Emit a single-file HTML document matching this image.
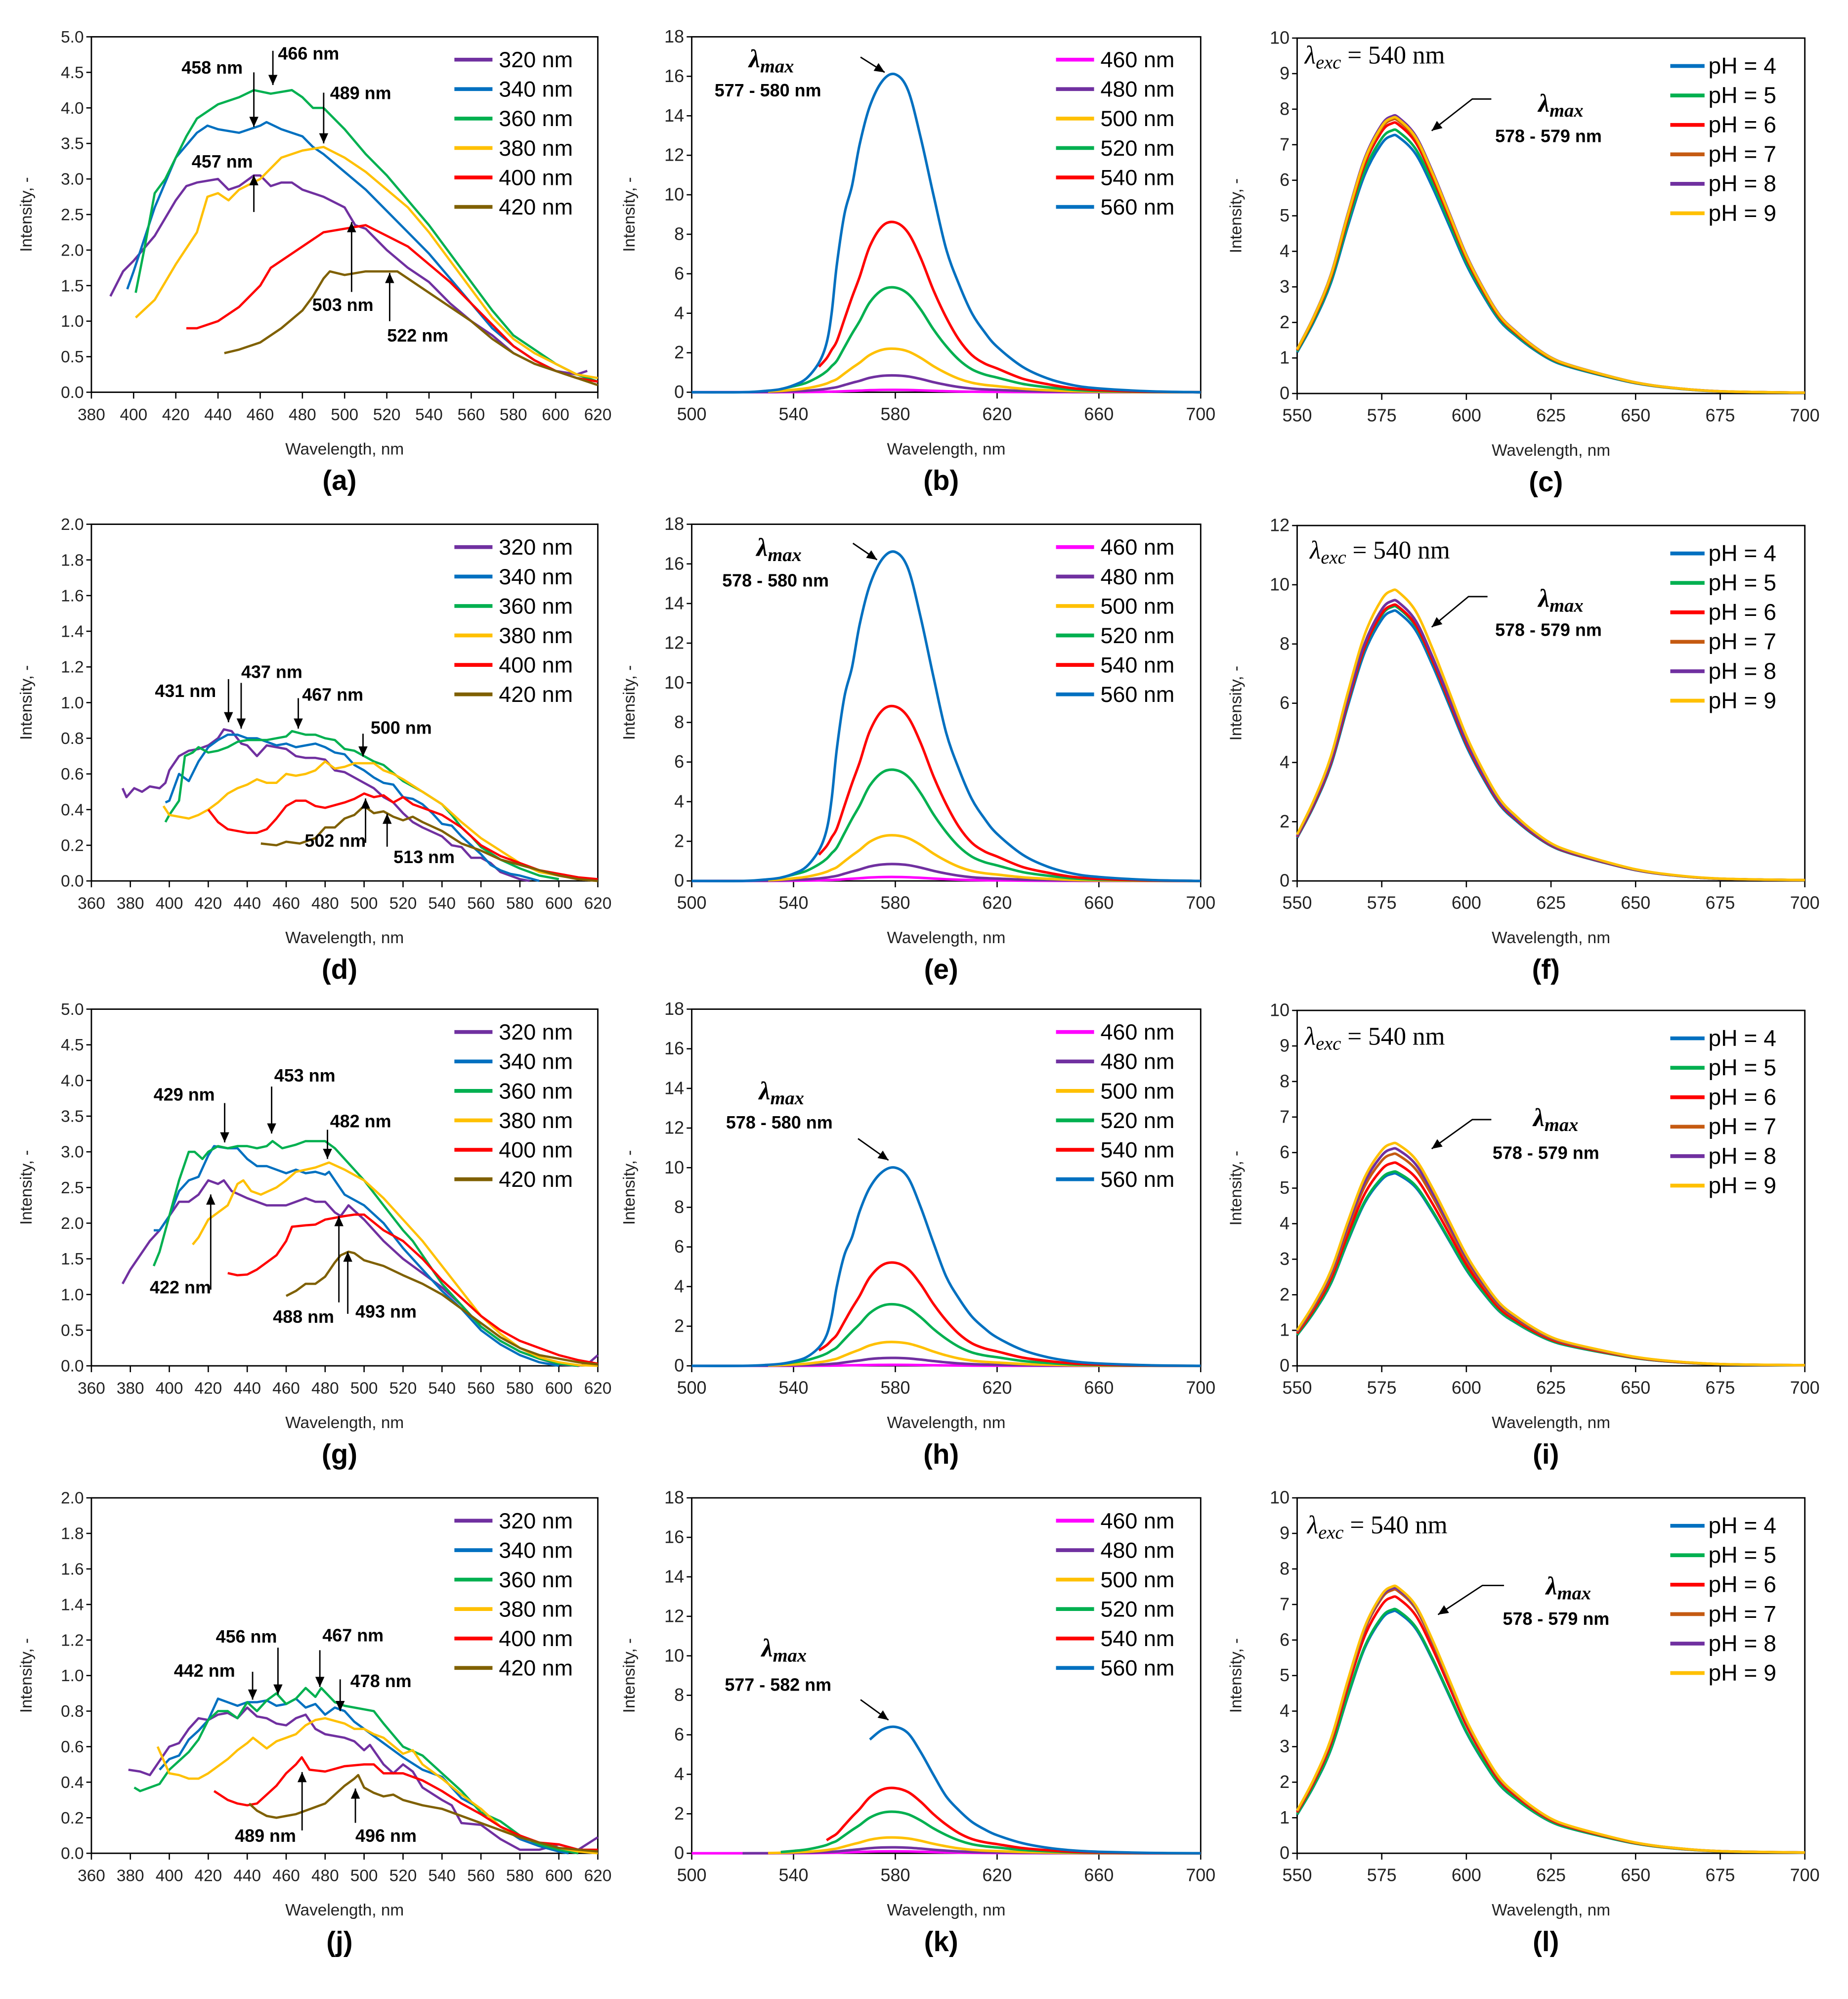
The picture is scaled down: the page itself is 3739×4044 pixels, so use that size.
<!DOCTYPE html>
<html><head><meta charset="utf-8"><title>Fluorescence spectra</title>
<style>html,body{margin:0;padding:0;background:#fff}svg{display:block}</style></head>
<body>
<svg id="fig" xmlns="http://www.w3.org/2000/svg" width="3739" height="4044" viewBox="0 0 1456 1574.8" font-family="Liberation Sans, sans-serif"></svg>
<script>
// ===== Column 1 data: [wavelength, intensity] pairs =====
const a320=[[389,1.35],[395,1.7],[400,1.85],[410,2.2],[420,2.7],[425,2.9],[430,2.95],[440,3.0],[445,2.85],[450,2.9],[457,3.05],[460,3.05],[465,2.9],[470,2.95],[475,2.95],[480,2.85],[490,2.75],[500,2.6],[505,2.35],[510,2.3],[520,2.0],[530,1.75],[540,1.55],[550,1.25],[560,1.0],[570,0.8],[580,0.55],[590,0.4],[600,0.3],[610,0.25],[615,0.3]];
const a340=[[397,1.45],[400,1.7],[410,2.6],[420,3.3],[430,3.65],[435,3.75],[440,3.7],[450,3.65],[460,3.75],[463,3.8],[470,3.7],[480,3.6],[485,3.45],[490,3.35],[500,3.1],[510,2.85],[520,2.55],[530,2.25],[540,1.95],[550,1.6],[560,1.25],[570,0.9],[580,0.65],[590,0.45],[600,0.3],[610,0.2],[620,0.15]];
const a360=[[401,1.4],[405,2.0],[410,2.8],[415,3.0],[420,3.3],[425,3.6],[430,3.85],[435,3.95],[440,4.05],[450,4.15],[457,4.25],[465,4.2],[475,4.25],[480,4.15],[485,4.0],[490,4.0],[500,3.7],[510,3.35],[520,3.05],[530,2.7],[540,2.35],[550,1.95],[560,1.55],[570,1.15],[580,0.8],[590,0.6],[600,0.4],[610,0.25],[620,0.15]];
const a380=[[401,1.05],[410,1.3],[420,1.8],[430,2.25],[435,2.75],[440,2.8],[445,2.7],[450,2.85],[460,3.0],[470,3.3],[480,3.4],[490,3.45],[500,3.3],[510,3.1],[520,2.85],[530,2.6],[540,2.25],[550,1.85],[560,1.45],[570,1.05],[580,0.75],[590,0.55],[600,0.4],[610,0.25],[620,0.2]];
const a400=[[425,0.9],[430,0.9],[440,1.0],[450,1.2],[460,1.5],[465,1.75],[470,1.85],[480,2.05],[490,2.25],[500,2.3],[510,2.35],[520,2.2],[530,2.05],[540,1.8],[550,1.55],[560,1.25],[570,0.95],[580,0.65],[590,0.45],[600,0.3],[610,0.2],[620,0.15]];
const a420=[[443,0.55],[450,0.6],[460,0.7],[470,0.9],[480,1.15],[485,1.35],[490,1.6],[493,1.7],[500,1.65],[510,1.7],[520,1.7],[525,1.7],[530,1.6],[540,1.4],[550,1.2],[560,1.0],[570,0.75],[580,0.55],[590,0.4],[600,0.3],[610,0.2],[620,0.1]];

const d320=[[376,0.52],[378,0.47],[382,0.52],[386,0.5],[390,0.53],[395,0.52],[398,0.55],[400,0.62],[405,0.7],[410,0.73],[415,0.74],[420,0.76],[425,0.8],[428,0.85],[432,0.84],[437,0.77],[440,0.76],[445,0.7],[450,0.76],[455,0.75],[460,0.74],[465,0.7],[470,0.69],[475,0.69],[480,0.68],[485,0.62],[490,0.61],[495,0.58],[500,0.55],[505,0.52],[510,0.47],[515,0.44],[520,0.38],[525,0.33],[530,0.3],[540,0.25],[545,0.2],[550,0.19],[555,0.13],[560,0.13],[565,0.1],[570,0.05],[575,0.03],[580,0.01],[585,0.0]];
const d340=[[398,0.44],[400,0.45],[405,0.6],[410,0.56],[415,0.67],[420,0.75],[425,0.79],[430,0.82],[435,0.82],[440,0.8],[445,0.8],[450,0.78],[455,0.76],[460,0.77],[465,0.75],[470,0.76],[475,0.77],[480,0.75],[485,0.72],[490,0.71],[495,0.65],[500,0.62],[505,0.58],[510,0.55],[515,0.54],[520,0.47],[525,0.46],[530,0.43],[535,0.38],[540,0.32],[545,0.31],[550,0.25],[555,0.2],[560,0.15],[565,0.09],[570,0.06],[575,0.04],[580,0.03],[590,0.0]];
const d360=[[398,0.33],[400,0.37],[405,0.45],[408,0.7],[412,0.72],[415,0.75],[420,0.72],[425,0.73],[430,0.75],[435,0.78],[440,0.79],[450,0.79],[455,0.8],[460,0.81],[463,0.84],[470,0.82],[475,0.82],[480,0.8],[485,0.79],[490,0.74],[495,0.73],[500,0.7],[505,0.67],[510,0.65],[520,0.56],[530,0.5],[540,0.43],[545,0.37],[550,0.3],[555,0.25],[560,0.19],[570,0.12],[580,0.07],[590,0.03],[600,0.01]];
const d380=[[397,0.42],[400,0.37],[405,0.36],[410,0.35],[415,0.37],[420,0.4],[425,0.44],[430,0.49],[435,0.52],[440,0.54],[445,0.57],[450,0.55],[455,0.55],[460,0.6],[465,0.59],[470,0.6],[475,0.62],[480,0.67],[485,0.63],[490,0.64],[495,0.66],[500,0.66],[505,0.66],[510,0.62],[515,0.6],[520,0.57],[530,0.5],[540,0.43],[550,0.33],[560,0.24],[570,0.17],[580,0.1],[590,0.05],[600,0.03],[610,0.01],[620,0.0]];
const d400=[[420,0.4],[425,0.33],[430,0.29],[435,0.28],[440,0.27],[445,0.27],[450,0.29],[455,0.35],[460,0.42],[465,0.45],[470,0.45],[475,0.42],[480,0.41],[490,0.44],[495,0.46],[500,0.49],[505,0.47],[510,0.48],[515,0.44],[520,0.47],[525,0.43],[530,0.41],[540,0.37],[550,0.3],[560,0.2],[570,0.14],[580,0.1],[590,0.06],[600,0.04],[610,0.02],[620,0.01]];
const d420=[[447,0.21],[455,0.2],[460,0.22],[467,0.21],[475,0.24],[480,0.3],[485,0.3],[490,0.35],[495,0.37],[500,0.42],[505,0.38],[510,0.39],[515,0.36],[520,0.34],[525,0.36],[530,0.33],[540,0.28],[550,0.21],[560,0.17],[570,0.12],[580,0.09],[590,0.06],[600,0.03],[610,0.01],[620,0.0]];

const g320=[[376,1.15],[380,1.35],[385,1.55],[390,1.75],[395,1.9],[400,2.1],[405,2.3],[410,2.3],[415,2.4],[420,2.6],[425,2.55],[428,2.6],[432,2.45],[440,2.35],[450,2.25],[460,2.25],[465,2.3],[470,2.35],[475,2.3],[480,2.3],[485,2.15],[488,2.1],[492,2.25],[500,2.05],[510,1.75],[520,1.5],[530,1.3],[540,1.1],[550,0.85],[560,0.55],[570,0.35],[580,0.2],[590,0.1],[600,0.02],[610,0.0],[615,0.03],[620,0.15]];
const g340=[[392,1.9],[395,1.9],[400,2.1],[405,2.45],[410,2.6],[415,2.65],[420,2.95],[423,3.08],[430,3.05],[435,3.05],[440,2.9],[445,2.8],[450,2.8],[455,2.75],[460,2.7],[465,2.75],[470,2.7],[475,2.72],[480,2.68],[482,2.72],[490,2.4],[500,2.25],[510,2.0],[520,1.65],[530,1.35],[540,1.05],[550,0.8],[560,0.5],[570,0.3],[580,0.15],[590,0.05],[600,0.0]];
const g360=[[392,1.4],[395,1.6],[400,2.1],[405,2.6],[410,3.0],[413,3.0],[417,2.9],[420,3.0],[425,3.08],[430,3.05],[435,3.08],[440,3.08],[445,3.05],[450,3.08],[453,3.15],[458,3.05],[465,3.1],[470,3.15],[480,3.15],[485,3.05],[490,2.9],[500,2.6],[510,2.25],[520,1.9],[525,1.75],[530,1.55],[540,1.15],[550,0.85],[560,0.55],[570,0.35],[580,0.2],[590,0.1],[600,0.03],[610,0.0]];
const g380=[[412,1.7],[415,1.8],[420,2.05],[425,2.15],[430,2.25],[435,2.55],[438,2.6],[442,2.45],[447,2.4],[455,2.5],[460,2.6],[465,2.72],[470,2.75],[475,2.78],[482,2.85],[490,2.75],[500,2.6],[510,2.35],[520,2.05],[530,1.75],[540,1.4],[550,1.05],[560,0.7],[570,0.45],[580,0.25],[590,0.12],[600,0.05],[610,0.01],[620,0.0]];
const g400=[[430,1.3],[435,1.27],[440,1.28],[445,1.35],[450,1.45],[455,1.55],[460,1.75],[463,1.95],[470,1.97],[475,1.98],[480,2.05],[490,2.1],[495,2.12],[500,2.12],[510,1.9],[520,1.75],[530,1.5],[540,1.2],[550,0.95],[560,0.7],[570,0.5],[580,0.35],[590,0.25],[600,0.15],[610,0.08],[620,0.03]];
const g420=[[460,0.98],[465,1.05],[470,1.15],[475,1.15],[480,1.25],[485,1.45],[488,1.55],[492,1.6],[495,1.58],[500,1.48],[510,1.4],[520,1.27],[530,1.15],[540,1.0],[550,0.8],[560,0.6],[570,0.4],[580,0.25],[590,0.15],[600,0.1],[610,0.05],[620,0.02]];

const j320=[[379,0.47],[385,0.46],[390,0.44],[395,0.52],[400,0.6],[405,0.62],[410,0.7],[415,0.76],[420,0.75],[425,0.78],[430,0.79],[435,0.76],[440,0.82],[445,0.77],[450,0.76],[455,0.73],[460,0.72],[465,0.76],[470,0.78],[475,0.7],[480,0.67],[485,0.66],[490,0.65],[495,0.63],[500,0.58],[503,0.61],[510,0.5],[515,0.45],[520,0.5],[525,0.46],[530,0.37],[540,0.3],[545,0.27],[550,0.17],[560,0.16],[570,0.08],[580,0.02],[590,0.02],[600,0.05],[610,0.02],[620,0.09]];
const j340=[[395,0.47],[400,0.53],[405,0.55],[410,0.64],[415,0.69],[420,0.75],[425,0.87],[430,0.85],[435,0.83],[440,0.85],[445,0.85],[450,0.86],[455,0.83],[460,0.84],[465,0.87],[470,0.82],[475,0.84],[480,0.78],[485,0.82],[490,0.8],[495,0.74],[500,0.7],[510,0.62],[520,0.54],[530,0.47],[540,0.43],[550,0.31],[560,0.25],[570,0.15],[580,0.08],[590,0.04],[600,0.01],[605,0.0]];
const j360=[[382,0.37],[385,0.35],[390,0.37],[395,0.39],[400,0.47],[405,0.52],[410,0.57],[415,0.64],[420,0.75],[425,0.8],[430,0.8],[435,0.76],[440,0.85],[445,0.8],[450,0.86],[455,0.9],[460,0.84],[465,0.87],[470,0.93],[475,0.88],[478,0.93],[485,0.85],[490,0.83],[500,0.81],[505,0.8],[510,0.73],[520,0.6],[530,0.55],[540,0.45],[550,0.35],[560,0.23],[570,0.18],[580,0.1],[590,0.05],[600,0.02],[610,0.0]];
const j380=[[394,0.6],[400,0.45],[405,0.44],[410,0.42],[415,0.42],[420,0.45],[425,0.49],[430,0.53],[435,0.58],[440,0.62],[443,0.65],[450,0.59],[455,0.63],[460,0.65],[465,0.67],[470,0.72],[475,0.75],[480,0.76],[490,0.73],[495,0.7],[500,0.7],[505,0.67],[510,0.65],[520,0.56],[525,0.58],[530,0.5],[540,0.42],[550,0.33],[560,0.25],[570,0.15],[580,0.09],[590,0.06],[600,0.03],[610,0.01],[620,0.0]];
const j400=[[423,0.35],[430,0.3],[435,0.28],[440,0.27],[445,0.28],[450,0.33],[455,0.38],[460,0.45],[465,0.5],[468,0.54],[472,0.47],[480,0.46],[490,0.49],[500,0.5],[505,0.5],[510,0.45],[520,0.45],[530,0.41],[540,0.35],[550,0.28],[560,0.22],[570,0.15],[580,0.1],[590,0.06],[600,0.05],[610,0.02],[620,0.02]];
const j420=[[441,0.28],[445,0.24],[450,0.21],[455,0.2],[460,0.21],[465,0.22],[470,0.24],[475,0.26],[480,0.28],[485,0.33],[490,0.38],[495,0.42],[497,0.44],[500,0.37],[505,0.34],[510,0.32],[515,0.33],[520,0.3],[530,0.27],[540,0.25],[550,0.21],[560,0.17],[570,0.13],[580,0.09],[590,0.06],[600,0.03],[610,0.02],[620,0.01]];

// ===== Column 2 data (emission spectra by excitation wavelength) =====
const wl2=[500,520,530,535,540,545,550,553,555,557,560,563,566,570,575,580,585,590,595,600,605,610,615,620,630,640,650,660,680,700];
const shape560=[0,0,0.005,0.01,0.022,0.043,0.093,0.155,0.25,0.4,0.56,0.65,0.78,0.9,0.98,1,0.95,0.8,0.62,0.45,0.34,0.25,0.19,0.143,0.08,0.043,0.022,0.012,0.003,0];
const shapeOther=[0,0.003,0.015,0.03,0.057,0.09,0.15,0.2,0.25,0.3,0.43,0.56,0.68,0.86,0.98,1,0.94,0.79,0.6,0.44,0.31,0.22,0.17,0.14,0.08,0.047,0.023,0.012,0.003,0];
const excLabels=['460 nm','480 nm','500 nm','520 nm','540 nm','560 nm'];
const peaksB=[0.12,0.85,2.2,5.3,8.6,16.1];
const peaksE=[0.2,0.85,2.3,5.6,8.8,16.6];
const peaksH=[0.05,0.4,1.2,3.1,5.2,10.0];
const peaksK=[0.1,0.3,0.8,2.1,3.3,6.4];
const startsB=[500,500,521,532,549,500];
const startsE=[500,500,521,532,549,500];
const startsH=[500,500,521,532,549,500];
const startsK=[500,520,525,535,551,569];

// ===== Column 3 data (pH series) =====
const wl3=[550,555,560,565,570,575,578,580,585,590,595,600,605,610,615,620,625,630,640,650,660,675,700];
const shape3=[0.16,0.28,0.43,0.65,0.85,0.97,1,0.995,0.93,0.8,0.65,0.5,0.38,0.28,0.22,0.17,0.13,0.105,0.07,0.04,0.022,0.008,0.003];
const phLabels=['pH = 4','pH = 5','pH = 6','pH = 7','pH = 8','pH = 9'];
const peaksC=[7.25,7.4,7.6,7.7,7.8,7.75];
const peaksF=[9.1,9.25,9.3,9.45,9.45,9.8];
const peaksI=[5.4,5.45,5.7,5.95,6.1,6.25];
const peaksL=[6.8,6.85,7.2,7.4,7.45,7.5];

// ===== drawing =====
const NS='http://www.w3.org/2000/svg';
const svg=document.getElementById('fig');
function mk(tag,attrs,parent){const e=document.createElementNS(NS,tag);for(const k in attrs)e.setAttribute(k,attrs[k]);(parent||svg).appendChild(e);return e;}
function txt(s,attrs,parent){const t=mk('text',attrs,parent);t.textContent=s;return t;}

const C1=['#7030a0','#0070c0','#00b050','#ffc000','#ff0000','#7f6000'];
const C2=['#ff00ff','#7030a0','#ffc000','#00b050','#ff0000','#0070c0'];
const C3=['#0070c0','#00b050','#ff0000','#c55a11','#7030a0','#ffc000'];
const exc1=['320 nm','340 nm','360 nm','380 nm','400 nm','420 nm'];

function axes(p){
  const g=mk('g',{});
  
  
  p.sx=v=>p.L+(v-p.xmin)/(p.xmax-p.xmin)*(p.R-p.L);
  p.sy=v=>p.B-(v-p.ymin)/(p.ymax-p.ymin)*(p.B-p.T);
  const frame=mk('rect',{x:p.L,y:p.T,width:p.R-p.L,height:p.B-p.T,fill:'none',stroke:'#000','stroke-width':1.1},g);
  
  
  const yt=mk('g',{},g);
  
  
  for(let v=p.ymin;v<=p.ymax+1e-9;v+=p.ystep){
    const y=p.sy(v);
    mk('line',{x1:p.L-4,x2:p.L,y1:y,y2:y,stroke:'#000','stroke-width':1},yt);
    const t=txt(v.toFixed(p.ydec),{x:p.L-6,y:y+4.5,'text-anchor':'end','font-size':p.fs||13,fill:'#222'},yt);
    
    
  }
  const xt=mk('g',{},g);
  
  
  for(let v=p.xmin;v<=p.xmax+1e-9;v+=p.xstep){
    const x=p.sx(v);
    mk('line',{x1:x,x2:x,y1:p.B,y2:p.B+5,stroke:'#000','stroke-width':1},xt);
    const t=txt(String(v),{x:x,y:p.B+22,'text-anchor':'middle','font-size':p.fs||13,fill:'#222'},xt);
    
    
  }
  const xtitle=txt('Wavelength, nm',{x:(p.L+p.R)/2,y:p.B+49,'text-anchor':'middle','font-size':13,fill:'#222'},g);
  
  
  const cy=(p.T+p.B)/2;
  const ytitle=txt('Intensity, -',{x:p.yx,y:cy,'text-anchor':'middle','font-size':13,fill:'#222',transform:'rotate(-90 '+p.yx+' '+cy+')'},g);
  
  
  const lab=txt('('+p.id+')',{x:(p.L+p.R)/2-4,y:p.B+77,'text-anchor':'middle','font-size':22,'font-weight':'bold',fill:'#000'},g);
  
  
  return g;
}
function line(p,g,pts,color,name,smooth){
  const P=pts.map(q=>[p.sx(q[0]),p.sy(q[1])]);
  let d='M'+P[0][0].toFixed(2)+' '+P[0][1].toFixed(2);
  for(let i=0;i<P.length-1;i++){
    if(!smooth){d+=' L'+P[i+1][0].toFixed(2)+' '+P[i+1][1].toFixed(2);continue;}
    const p0=P[i-1]||P[i],p1=P[i],p2=P[i+1],p3=P[i+2]||P[i+1];
    const c1=[p1[0]+(p2[0]-p0[0])/6,p1[1]+(p2[1]-p0[1])/6];
    const c2=[p2[0]-(p3[0]-p1[0])/6,p2[1]-(p3[1]-p1[1])/6];
    d+=' C'+c1[0].toFixed(2)+' '+c1[1].toFixed(2)+' '+c2[0].toFixed(2)+' '+c2[1].toFixed(2)+' '+p2[0].toFixed(2)+' '+p2[1].toFixed(2);
  }
  const e=mk('path',{d:d,fill:'none',stroke:color,'stroke-width':p.sw||2,'stroke-linejoin':'round'},g);
  
  
}
function legend(g,labels,colors,x1,x2,tx,y0,fs,id){
  const lg=mk('g',{},g);
  
  
  labels.forEach((s,i)=>{
    const y=y0+i*23.2;
    mk('line',{x1:x1,x2:x2,y1:y,y2:y,stroke:colors[i],'stroke-width':3},lg);
    const t=txt(s,{x:tx,y:y+6,'font-size':fs,fill:'#000'},lg);
    
    
  });
}
function arrowHead(g,x1,y1,x2,y2){
  const a=Math.atan2(y2-y1,x2-x1),L=8,W=3.6;
  const bx=x2-L*Math.cos(a),by=y2-L*Math.sin(a);
  const px=-Math.sin(a)*W,py=Math.cos(a)*W;
  mk('polygon',{points:`${x2},${y2} ${bx+px},${by+py} ${bx-px},${by-py}`,fill:'#000'},g);
}
function arrow(g,pts){
  mk('polyline',{points:pts.map(q=>q.join(',')).join(' '),fill:'none',stroke:'#000','stroke-width':1.1},g);
  const n=pts.length;arrowHead(g,pts[n-2][0],pts[n-2][1],pts[n-1][0],pts[n-1][1]);
}
function ann(g,s,x,y){
  const t=txt(s,{x:x,y:y,'font-size':14,'font-weight':'bold',fill:'#000'},g);
  
  
}
function lmax(g,x,y){
  const t=mk('text',{x:x,y:y,'font-family':'Liberation Serif, serif','font-style':'italic','font-weight':'bold','font-size':20,fill:'#000'},g);
  
  
  const a=mk('tspan',{},t);a.textContent='λ';
  const b=mk('tspan',{'font-size':15,dy:4},t);b.textContent='max';
}
function lexc(g,x,y){
  const t=mk('text',{x:x,y:y,'font-family':'Liberation Serif, serif','font-size':20,fill:'#000'},g);
  
  
  const a=mk('tspan',{'font-style':'italic'},t);a.textContent='λ';
  const b=mk('tspan',{'font-style':'italic','font-size':15,dy:4},t);b.textContent='exc';
  const c=mk('tspan',{dy:-4},t);c.textContent=' = 540 nm';
}

const rows=[[29,309],[413,694],[795,1076],[1180,1460]];
// ---- column 1 ----
const col1=[
 {id:'a',xmin:380,ymax:5,ystep:0.5,data:[a320,a340,a360,a380,a400,a420]},
 {id:'d',xmin:360,ymax:2,ystep:0.2,data:[d320,d340,d360,d380,d400,d420]},
 {id:'g',xmin:360,ymax:5,ystep:0.5,data:[g320,g340,g360,g380,g400,g420]},
 {id:'j',xmin:360,ymax:2,ystep:0.2,data:[j320,j340,j360,j380,j400,j420]}];
const anns1={
 a:{t:[['458 nm',143,58],['466 nm',219,47],['489 nm',260,78],['457 nm',151,132],['503 nm',246,245],['522 nm',305,269]],
    ar:[[[200,57],[200,100]],[[215,40],[215,67]],[[255,73],[255,113]],[[200,167],[200,138]],[[277,230],[277,175]],[[307,253],[307,215]]]},
 d:{t:[['431 nm',122,549],['437 nm',190,534],['467 nm',238,552],['500 nm',292,578],['502 nm',240,667],['513 nm',310,680]],
    ar:[[[180,535],[180,569]],[[190,538],[190,574]],[[235,550],[235,574]],[[286,578],[286,596]],[[288,664],[288,629]],[[305,667],[305,641]]]},
 g:{t:[['429 nm',121,867],['453 nm',216,852],['482 nm',260,888],['422 nm',118,1019],['488 nm',215,1042],['493 nm',280,1038]],
    ar:[[[177,869],[177,900]],[[214,856],[214,893]],[[258,890],[258,913]],[[166,1016],[166,941]],[[267,1026],[267,958]],[[274,1035],[274,986]]]},
 j:{t:[['442 nm',137,1321],['456 nm',170,1294],['467 nm',254,1293],['478 nm',276,1329],['489 nm',185,1451],['496 nm',280,1451]],
    ar:[[[199,1317],[199,1339]],[[219,1298],[219,1335]],[[252,1300],[252,1329]],[[268,1323],[268,1348]],[[238,1442],[238,1396]],[[280,1436],[280,1409]]]}};
col1.forEach((c,r)=>{
  const p={id:c.id,L:72,R:471,T:rows[r][0],B:rows[r][1],xmin:c.xmin,xmax:620,xstep:20,ymin:0,ymax:c.ymax,ystep:c.ystep,ydec:1,yx:25,sw:1.8};
  const g=axes(p);
  c.data.forEach((s,i)=>line(p,g,s,C1[i],'series-'+exc1[i].replace(' ','')+'-'+c.id,false));
  legend(g,exc1,C1,358,388,393,p.T+18,17.5,c.id);
  const A=anns1[c.id];
  A.t.forEach(q=>ann(g,q[0],q[1],q[2]));
  A.ar.forEach(q=>arrow(g,q));
});
// ---- column 2 ----
const col2=[
 {id:'b',peaks:peaksB,starts:startsB,lm:[590,53],lt:['577 - 580 nm',563,76],ar:[[678,45],[697,57]]},
 {id:'e',peaks:peaksE,starts:startsE,lm:[596,438],lt:['578 - 580 nm',569,462],ar:[[672,428],[691,441]]},
 {id:'h',peaks:peaksH,starts:startsH,lm:[598,866],lt:['578 - 580 nm',572,889],ar:[[676,897],[700,914]]},
 {id:'k',peaks:peaksK,starts:startsK,lm:[600,1305],lt:['577 - 582 nm',571,1332],ar:[[678,1339],[700,1355]]}];
col2.forEach((c,r)=>{
  const p={id:c.id,L:545,R:946,T:rows[r][0],B:rows[r][1],xmin:500,xmax:700,xstep:40,ymin:0,ymax:18,ystep:2,ydec:0,yx:500,sw:2,fs:14};
  const g=axes(p);
  c.peaks.forEach((pk,i)=>{
    const shp=i===5?shape560:shapeOther;
    const pts=[];
    wl2.forEach((w,k)=>{if(w>=c.starts[i])pts.push([w,shp[k]*pk]);});
    line(p,g,pts,C2[i],'series-'+excLabels[i].replace(' ','')+'-'+c.id,true);
  });
  legend(g,excLabels,C2,832,862,867,p.T+18,17.5,c.id);
  lmax(g,c.lm[0],c.lm[1]);
  ann(g,c.lt[0],c.lt[1],c.lt[2]);
  arrow(g,c.ar);
});
// ---- column 3 ----
const col3=[
 {id:'c',peaks:peaksC,ymax:10,ystep:1,T:30,B:310,ex:[1028,50],lm:[1212,88],lt:['578 - 579 nm',1178,112],ar:[[1175,78],[1160,78],[1128,103]]},
 {id:'f',peaks:peaksF,ymax:12,ystep:2,T:414,B:694,ex:[1032,440],lm:[1212,478],lt:['578 - 579 nm',1178,501],ar:[[1172,470],[1157,470],[1128,494]]},
 {id:'i',peaks:peaksI,ymax:10,ystep:1,T:796,B:1076,ex:[1028,823],lm:[1208,887],lt:['578 - 579 nm',1176,913],ar:[[1175,882],[1160,882],[1128,905]]},
 {id:'l',peaks:peaksL,ymax:10,ystep:1,T:1180,B:1460,ex:[1030,1208],lm:[1218,1256],lt:['578 - 579 nm',1184,1280],ar:[[1185,1249],[1168,1249],[1133,1272]]}];
col3.forEach(c=>{
  const p={id:c.id,L:1022,R:1422,T:c.T,B:c.B,xmin:550,xmax:700,xstep:25,ymin:0,ymax:c.ymax,ystep:c.ystep,ydec:0,yx:978,sw:2,fs:14};
  const g=axes(p);
  c.peaks.forEach((pk,i)=>{
    const pts=wl3.map((w,k)=>[w,shape3[k]*pk]);
    line(p,g,pts,C3[i],'series-ph'+(i+4)+'-'+c.id,true);
  });
  legend(g,phLabels,C3,1316,1343,1346,p.T+22,18,c.id);
  lexc(g,c.ex[0],c.ex[1]);
  lmax(g,c.lm[0],c.lm[1]);
  ann(g,c.lt[0],c.lt[1],c.lt[2]);
  arrow(g,c.ar);
});
</script>
</body></html>
